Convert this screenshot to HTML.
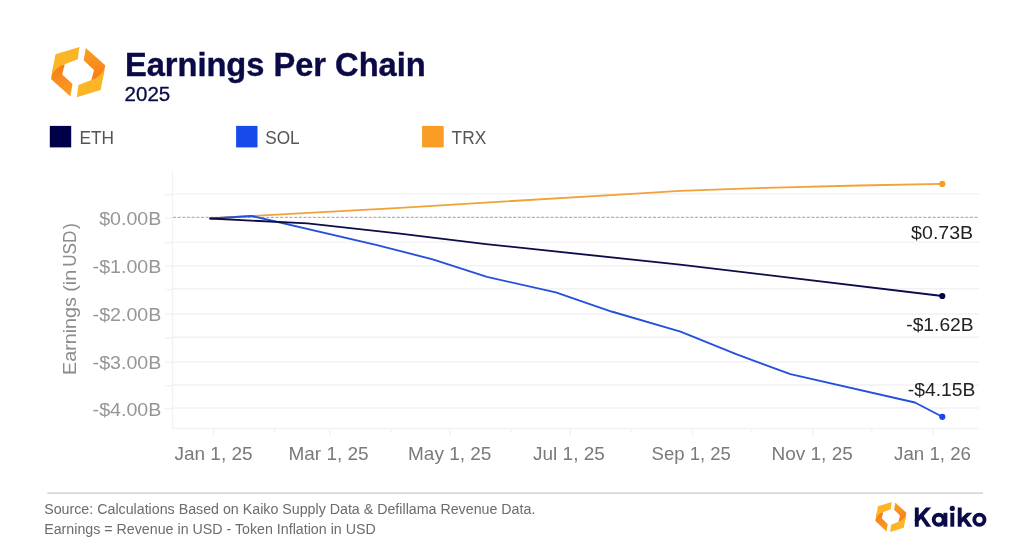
<!DOCTYPE html>
<html><head><meta charset="utf-8"><title>Earnings Per Chain</title>
<style>
html,body{margin:0;padding:0;background:#fff;}
body{width:1024px;height:559px;overflow:hidden;font-family:"Liberation Sans",sans-serif;}
svg{display:block;will-change:transform;}
text{font-family:"Liberation Sans",sans-serif;}
</style></head><body>
<svg width="1024" height="559" viewBox="0 0 1024 559">
<defs>
<linearGradient id="gA" gradientUnits="userSpaceOnUse" x1="60" y1="66" x2="66" y2="96"><stop offset="0" stop-color="#f87d18"/><stop offset="1" stop-color="#fa9f20"/></linearGradient>
</defs>
<rect width="1024" height="559" fill="#ffffff"/>

<!-- header -->
<g><path d="M64.8,64.3 L62.2,74.4 L72.5,84.1 L70.4,96.4 L51,79 L53.5,65 Z" fill="url(#gA)"/><path d="M55.5,54.3 L79.4,47 L77.8,59.3 L64.8,64.3 Q57,66.3 51.7,75 Z" fill="#fcb526"/><g transform="rotate(180 78.1 72.15)"><path d="M64.8,64.3 L62.2,74.4 L72.5,84.1 L70.4,96.4 L51,79 L53.5,65 Z" fill="url(#gA)"/><path d="M55.5,54.3 L79.4,47 L77.8,59.3 L64.8,64.3 Q57,66.3 51.7,75 Z" fill="#fcb526"/></g></g>
<text transform="translate(124.9,75.7) scale(0.965,1)" font-size="33.8" font-weight="700" fill="#0a0a46" stroke="#0a0a46" stroke-width="0.4">Earnings Per Chain</text>
<text x="124.6" y="101.1" font-size="20.5" fill="#0a0a46" stroke="#0a0a46" stroke-width="0.3">2025</text>

<!-- legend -->
<rect x="49.8" y="125.9" width="21.4" height="21.5" fill="#000048"/>
<text transform="translate(79.5,144.4) scale(0.95,1)" font-size="18.2" fill="#555555">ETH</text>
<rect x="236.1" y="125.9" width="21.4" height="21.5" fill="#174aeb"/>
<text transform="translate(265.3,144.4) scale(0.945,1)" font-size="18.2" fill="#555555">SOL</text>
<rect x="422.1" y="125.9" width="21.6" height="21.5" fill="#f99d24"/>
<text transform="translate(451.6,144.4) scale(0.95,1)" font-size="18.2" fill="#555555">TRX</text>

<!-- grid -->
<g stroke="#f2f2f5" stroke-width="1.4" fill="none">
<line x1="172.5" y1="193.9" x2="979" y2="193.9"/>
<line x1="172.5" y1="242.1" x2="979" y2="242.1"/>
<line x1="172.5" y1="265.7" x2="979" y2="265.7"/>
<line x1="172.5" y1="288.7" x2="979" y2="288.7"/>
<line x1="172.5" y1="314.0" x2="979" y2="314.0"/>
<line x1="172.5" y1="337.2" x2="979" y2="337.2"/>
<line x1="172.5" y1="361.7" x2="979" y2="361.7"/>
<line x1="172.5" y1="385.0" x2="979" y2="385.0"/>
<line x1="172.5" y1="408.0" x2="979" y2="408.0"/>
</g>
<g stroke="#f2f2f6" stroke-width="1.4" fill="none">
<line x1="172.5" y1="171" x2="172.5" y2="428.45"/>
<line x1="172.5" y1="428.45" x2="979" y2="428.45"/>
<line x1="165" y1="195.0" x2="172.5" y2="195.0"/>
<line x1="165" y1="218.0" x2="172.5" y2="218.0"/>
<line x1="165" y1="242.8" x2="172.5" y2="242.8"/>
<line x1="165" y1="266.2" x2="172.5" y2="266.2"/>
<line x1="165" y1="289.5" x2="172.5" y2="289.5"/>
<line x1="165" y1="314.1" x2="172.5" y2="314.1"/>
<line x1="165" y1="337.9" x2="172.5" y2="337.9"/>
<line x1="165" y1="362.3" x2="172.5" y2="362.3"/>
<line x1="165" y1="385.7" x2="172.5" y2="385.7"/>
<line x1="165" y1="408.7" x2="172.5" y2="408.7"/>
<line x1="213.5" y1="429.6" x2="213.5" y2="435.9"/>
<line x1="329.8" y1="429.6" x2="329.8" y2="435.9"/>
<line x1="450.0" y1="429.6" x2="450.0" y2="435.9"/>
<line x1="570.3" y1="429.6" x2="570.3" y2="435.9"/>
<line x1="692.5" y1="429.6" x2="692.5" y2="435.9"/>
<line x1="812.7" y1="429.6" x2="812.7" y2="435.9"/>
<line x1="933.0" y1="429.6" x2="933.0" y2="435.9"/>
<line x1="274.6" y1="429.6" x2="274.6" y2="432.3"/>
<line x1="390.9" y1="429.6" x2="390.9" y2="432.3"/>
<line x1="511.2" y1="429.6" x2="511.2" y2="432.3"/>
<line x1="631.4" y1="429.6" x2="631.4" y2="432.3"/>
<line x1="751.6" y1="429.6" x2="751.6" y2="432.3"/>
<line x1="871.9" y1="429.6" x2="871.9" y2="432.3"/>
</g>
<!-- zero line -->
<line x1="173.0" y1="217.4" x2="979" y2="217.4" stroke="#b2b2b2" stroke-width="1.1" stroke-dasharray="3.1 1.56"/>
<!-- y labels -->
<g font-size="18.5" fill="#969696" text-anchor="end">
<text transform="translate(161.4,224.5) scale(1.062,1)">$0.00B</text>
<text transform="translate(161.4,272.8) scale(1.062,1)">-$1.00B</text>
<text transform="translate(161.4,321.1) scale(1.062,1)">-$2.00B</text>
<text transform="translate(161.4,369.3) scale(1.062,1)">-$3.00B</text>
<text transform="translate(161.4,415.8) scale(1.062,1)">-$4.00B</text>
</g>
<g transform="translate(75.5,297.5) rotate(-90)" font-size="18" fill="#8c8c8c"><text transform="translate(-77.4,0) scale(1.095,1)">Earnings (in</text><text transform="translate(30.65,0) scale(0.955,1)">USD</text><text transform="translate(68.5,0)">)</text></g>
<g font-size="19" fill="#7a7a7a" text-anchor="middle">
<text transform="translate(213.5,459.6) scale(1.0,1)">Jan 1, 25</text>
<text transform="translate(328.5,459.6) scale(1.0,1)">Mar 1, 25</text>
<text transform="translate(449.7,459.6) scale(1.0,1)">May 1, 25</text>
<text transform="translate(568.9,459.6) scale(1.0,1)">Jul 1, 25</text>
<text transform="translate(691.2,459.6) scale(0.975,1)">Sep 1, 25</text>
<text transform="translate(812.1,459.6) scale(1.0,1)">Nov 1, 25</text>
<text transform="translate(932.5,459.6) scale(0.985,1)">Jan 1, 26</text>
</g>
<!-- series -->
<g fill="none" stroke-width="1.85" stroke-linejoin="round" stroke-linecap="round">
<polyline stroke="#f2a238" points="210.2,218.5 251.8,216 400,207.8 640,193.3 680,190.8 765,187.8 859,185.5 942.3,183.9"/>
<polyline stroke="#2450dc" points="210.2,218.5 251.8,216 377,245.2 432.7,259.3 487,276.9 555.8,292.4 611.5,311.5 680.5,331.6 736.2,354.2 790.4,374.1 914.9,402.5 942.3,416.8"/>
<polyline stroke="#0c0c4a" points="210.2,218.5 307.4,223.4 400,233.6 486,244.1 680,264.6 942.3,296"/>
</g>
<circle cx="942.3" cy="183.9" r="3.1" fill="#f99d24"/>
<circle cx="942.3" cy="296" r="3.1" fill="#000048"/>
<circle cx="942.3" cy="416.8" r="3.1" fill="#174aeb"/>

<g font-size="18.4" fill="#222222" text-anchor="end">
<text transform="translate(973.2,238.7) scale(1.065,1)">$0.73B</text>
<text transform="translate(973.6,331.4) scale(1.046,1)">-$1.62B</text>
<text transform="translate(975.4,395.8) scale(1.05,1)">-$4.15B</text>
</g>

<!-- footer -->
<line x1="47.3" y1="493.1" x2="983" y2="493.1" stroke="#bcbcbc" stroke-width="1"/>
<text transform="translate(44.2,513.7) scale(0.982,1)" font-size="14.5" fill="#6c6c6c">Source: Calculations Based on Kaiko Supply Data &amp; Defillama Revenue Data.</text>
<text transform="translate(44.2,533.7) scale(0.982,1)" font-size="14.5" fill="#6c6c6c">Earnings = Revenue in USD - Token Inflation in USD</text>
<g transform="translate(875.2,502) scale(0.572,0.6) translate(-50.7,-47.2)"><g><path d="M64.8,64.3 L62.2,74.4 L72.5,84.1 L70.4,96.4 L51,79 L53.5,65 Z" fill="url(#gA)"/><path d="M55.5,54.3 L79.4,47 L77.8,59.3 L64.8,64.3 Q57,66.3 51.7,75 Z" fill="#fcb526"/><g transform="rotate(180 78.1 72.15)"><path d="M64.8,64.3 L62.2,74.4 L72.5,84.1 L70.4,96.4 L51,79 L53.5,65 Z" fill="url(#gA)"/><path d="M55.5,54.3 L79.4,47 L77.8,59.3 L64.8,64.3 Q57,66.3 51.7,75 Z" fill="#fcb526"/></g></g></g>
<clipPath id="capclip"><rect x="910" y="507.6" width="80" height="19.2"/></clipPath>
<clipPath id="xclip"><rect x="955" y="512.8" width="20" height="14"/></clipPath>
<g fill="none" stroke="#0b0b47" stroke-width="3.9">
  <g clip-path="url(#capclip)">
    <line x1="916.8" y1="507" x2="916.8" y2="527"/>
    <line x1="915.8" y1="521.6" x2="930.2" y2="505.7"/>
    <line x1="920.6" y1="514.9" x2="930.2" y2="528.7"/>
    <line x1="959.7" y1="507" x2="959.7" y2="527"/>
  </g>
  <g clip-path="url(#xclip)">
    <line x1="959" y1="522.8" x2="971.3" y2="511.2"/>
    <line x1="963.3" y1="517.6" x2="971.4" y2="528.5"/>
  </g>
  <circle cx="938.7" cy="519.75" r="5"/>
  <line x1="945.4" y1="512.8" x2="945.4" y2="526.7"/>
  <line x1="952.3" y1="512.8" x2="952.3" y2="526.7"/>
  <circle cx="979.4" cy="519.75" r="5.1"/>
</g>
<circle cx="952.3" cy="508.4" r="2.6" fill="#0b0b47"/>
</svg>
</body></html>
